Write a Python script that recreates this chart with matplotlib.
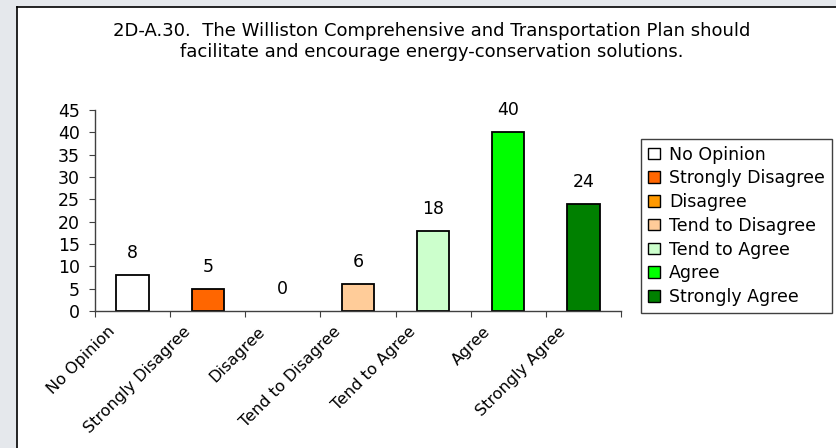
import matplotlib
matplotlib.use("Agg")
import matplotlib.pyplot as plt
import matplotlib.transforms as mtransforms
from matplotlib.patches import Rectangle, Patch

plt.rcParams['font.family'] = ['DejaVu Sans']

categories = ["No Opinion", "Strongly Disagree", "Disagree", "Tend to Disagree",
              "Tend to Agree", "Agree", "Strongly Agree"]
counts = [8, 5, 0, 6, 18, 40, 24]
colors = ["#FFFFFF", "#FF6600", "#FF9900", "#FFCC99", "#CCFFCC", "#00FF00", "#008000"]
yticks = [0, 5, 10, 15, 20, 25, 30, 35, 40, 45]
title = ("2D-A.30.  The Williston Comprehensive and Transportation Plan should\n"
         "facilitate and encourage energy-conservation solutions.")

W, H = 837, 448
FS = 12.5
fig = plt.figure(figsize=(W / 100, H / 100), dpi=100)
fig.patch.set_facecolor("#E5E8EC")

# white panel with black left/top border
panel = Rectangle((17 / W, 0), 1.0, 1 - 7 / H, transform=fig.transFigure,
                  facecolor="white", edgecolor="none", zorder=-10)
fig.patches.append(panel)
fig.add_artist(plt.Line2D([17 / W, 17 / W], [0, 1 - 7 / H], transform=fig.transFigure,
                          color="black", lw=1.2))
fig.add_artist(plt.Line2D([17 / W, 1], [1 - 7 / H, 1 - 7 / H], transform=fig.transFigure,
                          color="black", lw=1.2))

ax = fig.add_axes([95 / W, 1 - 311 / H, (621 - 95) / W, (311 - 110) / H])
ax.set_facecolor("none")

x = list(range(len(categories)))
# zero-height bars leave no mark (as in the original)
edge_w = [1.3 if v > 0 else 0 for v in counts]
bars = ax.bar(x, counts, width=0.43, color=colors, edgecolor="black", linewidth=edge_w)
for xi, v in zip(x, counts):
    ax.annotate(str(v), (xi, v), xytext=(0, 13), textcoords="offset pixels",
                ha="center", va="bottom", fontsize=FS)

ax.set_xlim(-0.5, len(categories) - 0.5)
ax.set_ylim(0, 45)
ax.set_yticks(yticks)
ax.set_xticks([i - 0.5 for i in range(len(categories) + 1)])
ax.set_xticklabels([])
ax.set_xticks(x, minor=True)
ax.set_xticklabels(categories, minor=True, rotation=45, ha="right", va="center",
                   rotation_mode="anchor", fontsize=11.5)
ax.tick_params(axis="x", which="minor", length=0, pad=0)
ax.tick_params(axis="x", which="major", length=4, direction="out", color="#404040")
ax.tick_params(axis="y", length=4, direction="out", color="#404040", labelsize=FS, pad=7)

offset = mtransforms.ScaledTranslation(-20 / 100, -18 / 100, fig.dpi_scale_trans)
for lab in ax.get_xticklabels(minor=True):
    lab.set_transform(lab.get_transform() + offset)

for s in ["top", "right"]:
    ax.spines[s].set_visible(False)
for s in ["left", "bottom"]:
    ax.spines[s].set_color("#404040")
    ax.spines[s].set_linewidth(1.0)

fig.text(432 / W, 1 - 41.5 / H, title, ha="center", va="center", fontsize=13,
         linespacing=1.2)

handles = [Patch(facecolor=c, edgecolor="black", linewidth=1.0) for c in colors]
leg = fig.legend(handles, categories, loc="upper left",
                 bbox_to_anchor=(641 / W, 1 - 139 / H), borderaxespad=0,
                 fontsize=FS, frameon=True, fancybox=False, framealpha=1,
                 edgecolor="#404040", handlelength=0.7, handleheight=0.65,
                 handletextpad=0.55, labelspacing=0.33, borderpad=0.38)
leg.get_frame().set_linewidth(1.0)

fig.savefig("out.png", dpi=100, facecolor=fig.get_facecolor())
